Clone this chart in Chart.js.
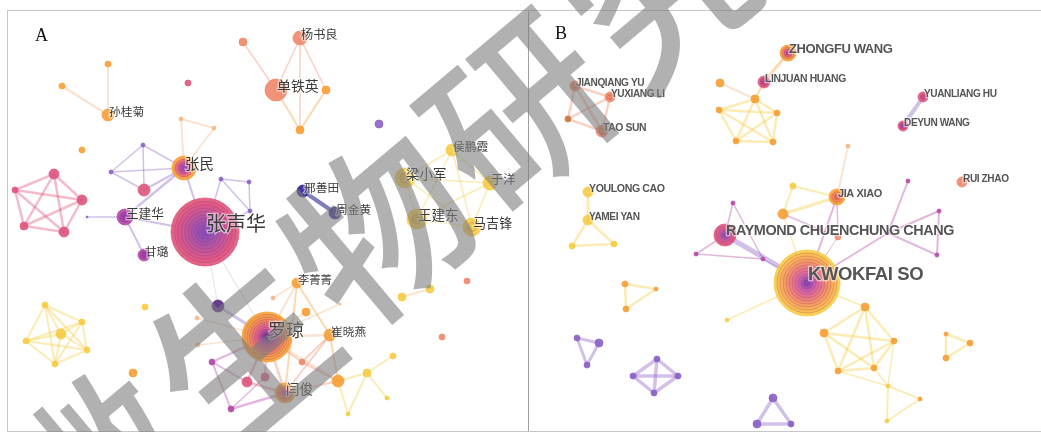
<!DOCTYPE html>
<html>
<head>
<meta charset="utf-8">
<script src="https://cdn.jsdelivr.net/npm/chart.js@4.4.1/dist/chart.umd.min.js"></script>
<style>
    body { margin: 0; background: #fff; }
    #wrap { position: relative; width: 1041px; height: 432px; overflow: hidden; background: #fff; }
    .frame { position: absolute; box-sizing: border-box; }
    canvas { position: absolute; top: 0; }
    .wm {
        position: absolute; font-family: "Noto Sans CJK SC"; font-weight: 500; font-size: 178px;
        line-height: 1; color: rgba(125, 125, 125, 0.6); pointer-events: none; white-space: nowrap;
        transform: translate(-50%, -50%) rotate(-40deg); z-index: 10;
    }
</style>
</head>
<body>
<div id="wrap">
    <div class="frame" style="left:7px;top:10px;width:522px;height:422px;border:1px solid #c6c6c6;border-right:1px solid #a0a0a0;"></div>
    <div class="frame" style="left:528px;top:10px;width:520px;height:422px;border-top:1px solid #c6c6c6;border-bottom:1px solid #c6c6c6;"></div>
    <canvas id="chartA" width="528" height="432" style="left:0"></canvas>
    <canvas id="chartB" width="513" height="432" style="left:528px"></canvas>
    <span class="wm" style="left:90px;top:462px">微</span>
    <span class="wm" style="left:236px;top:344px">生</span>
    <span class="wm" style="left:372px;top:222px">物</span>
    <span class="wm" style="left:512px;top:103px">研</span>
    <span class="wm" style="left:654px;top:-16px">究</span>
</div>
<script>
(function () {
    // node: [name, x, y, size, group]  (names starting with "_" carry no label)
    const nodesA = [
        ['杨书良', 300, 38, 7, 'salmon'], ['_a1', 243, 42, 4, 'salmon'], ['单铁英', 276, 90, 11, 'salmon'],
        ['_a2', 326, 90, 4, 'orange'], ['_a3', 300, 130, 4, 'orange'],
        ['孙桂菊', 108, 115, 6, 'orange'], ['_a4', 108, 64, 3, 'orange'], ['_a5', 62, 86, 3, 'orange'],
        ['_a6', 188, 83, 3, 'pink'], ['_a7', 82, 150, 3, 'orange'], ['_a8', 379, 124, 4, 'purple'],
        ['张民', 184, 168, 12, 'orange'], ['_a9', 181, 119, 2, 'peach'], ['_a10', 214, 128, 2, 'peach'],
        ['_a11', 143, 145, 2, 'purple'], ['_a12', 111, 172, 2, 'purple'], ['_a13', 144, 190, 6, 'pink'],
        ['_p1', 54, 174, 5, 'pink'], ['_p2', 15, 190, 3, 'pink'], ['_p3', 82, 200, 5, 'pink'],
        ['_p4', 24, 226, 4, 'pink'], ['_p5', 64, 232, 5, 'pink'],
        ['王建华', 125, 217, 8, 'magenta'], ['_a14', 87, 217, 1, 'purple'], ['甘璐', 144, 255, 6, 'magenta'],
        ['张声华', 205, 232, 34, 'pink'],
        ['_s1', 221, 179, 2, 'purple'], ['_s2', 249, 182, 2, 'purple'], ['_s3', 250, 211, 2, 'purple'],
        ['邢善田', 303, 191, 6, 'navy'], ['周金黄', 335, 213, 6, 'navy'],
        ['侯鹏霞', 452, 150, 6, 'yellow'], ['梁小军', 405, 178, 10, 'yellow'], ['于洋', 490, 183, 7, 'yellow'],
        ['王建东', 417, 219, 10, 'yellow'], ['马吉锋', 472, 227, 9, 'yellow'],
        ['_a15', 467, 281, 3, 'salmon'], ['_a16', 402, 297, 4, 'yellow'], ['_a17', 430, 289, 4, 'yellow'],
        ['罗琼', 267, 337, 25, 'orange'], ['李菁菁', 297, 283, 5, 'orange'], ['_b1', 218, 306, 6, 'darkpurple'],
        ['崔晓燕', 330, 335, 6, 'orange'], ['闫俊', 285, 393, 10, 'orange'],
        ['_b2', 306, 312, 4, 'orange'], ['_b3', 302, 362, 3, 'salmon'], ['_b4', 247, 382, 5, 'pink'],
        ['_b5', 265, 377, 4, 'pink'], ['_b6', 212, 362, 3, 'magenta'], ['_b7', 231, 409, 3, 'magenta'],
        ['_b8', 338, 381, 6, 'orange'], ['_b9', 367, 373, 4, 'yellow'], ['_b10', 393, 356, 3, 'yellow'],
        ['_b11', 348, 414, 2, 'yellow'], ['_b12', 387, 398, 2, 'yellow'], ['_b13', 197, 318, 2, 'peach'],
        ['_b14', 198, 345, 2, 'peach'], ['_b15', 273, 298, 2, 'peach'], ['_b16', 340, 304, 1, 'peach'],
        ['_b17', 145, 307, 3, 'yellow'], ['_b18', 133, 373, 4, 'orange'], ['_b19', 442, 337, 3, 'salmon'],
        ['_h1', 45, 305, 3, 'yellow'], ['_h2', 82, 322, 3, 'yellow'], ['_h3', 26, 341, 3, 'yellow'],
        ['_h4', 61, 334, 5, 'yellow'], ['_h5', 87, 350, 3, 'yellow'], ['_h6', 55, 364, 3, 'yellow']
    ];

    // edge: [from, to, weight, group]
    const edgesA = [
        ['杨书良', '单铁英', 1.5, 'salmon'], ['杨书良', '_a3', 1.5, 'salmon'], ['杨书良', '_a2', 1.5, 'salmon'],
        ['_a1', '单铁英', 1.5, 'salmon'], ['单铁英', '_a3', 2, 'orange'], ['_a2', '_a3', 2, 'orange'],
        ['孙桂菊', '_a4', 2, 'peach'], ['孙桂菊', '_a5', 2.5, 'peach'],
        ['张民', '_a9', 2, 'peach'], ['_a9', '_a10', 2, 'peach'], ['_a10', '张民', 2, 'peach'],
        ['_a11', '_a12', 1.5, 'purple'], ['_a11', '张民', 1.5, 'purple'], ['_a12', '张民', 1.5, 'purple'],
        ['_a11', '_a13', 1.5, 'purple'], ['_a12', '_a13', 1.5, 'purple'], ['_a13', '张民', 2, 'purple'],
        ['_a14', '王建华', 1.5, 'purple'], ['王建华', '张民', 2.5, 'purple'], ['王建华', '张声华', 2, 'purple'],
        ['王建华', '甘璐', 2, 'purple'], ['张民', '张声华', 2, 'purple'],
        ['_s1', '_s2', 1.5, 'purple'], ['_s2', '_s3', 1.5, 'purple'], ['_s1', '_s3', 1.5, 'purple'],
        ['_s1', '张声华', 1.5, 'purple'], ['_s3', '张声华', 1.5, 'purple'],
        ['邢善田', '周金黄', 4, 'navy'], ['_a16', '_a17', 2, 'peach'],
        ['张声华', '罗琼', 1, 'grey'], ['张声华', '_b1', 0.8, 'grey'], ['_b1', '罗琼', 3, 'purple'],
        ['罗琼', '李菁菁', 2, 'peach'], ['罗琼', '_b2', 2, 'peach'], ['罗琼', '崔晓燕', 2.5, 'peach'],
        ['罗琼', '闫俊', 2.5, 'salmon'], ['罗琼', '_b4', 2.5, 'pink'], ['罗琼', '_b5', 2, 'pink'],
        ['罗琼', '_b6', 2, 'magenta'], ['罗琼', '_b13', 1.5, 'peach'], ['罗琼', '_b14', 1.5, 'peach'],
        ['罗琼', '_b3', 2, 'salmon'], ['罗琼', '_b8', 2, 'peach'], ['罗琼', '_b16', 1.5, 'peach'],
        ['李菁菁', '崔晓燕', 2, 'orange'], ['李菁菁', '闫俊', 2, 'orange'], ['李菁菁', '_b15', 1.5, 'peach'],
        ['崔晓燕', '闫俊', 2, 'salmon'], ['崔晓燕', '_b3', 2, 'salmon'], ['崔晓燕', '_b8', 2, 'orange'],
        ['_b3', '_b8', 2, 'salmon'], ['闫俊', '_b8', 2, 'salmon'], ['闫俊', '_b4', 2.5, 'pink'],
        ['_b4', '_b6', 2, 'magenta'], ['_b6', '_b7', 2, 'magenta'], ['_b7', '闫俊', 2.5, 'magenta'],
        ['_b7', '_b5', 1.5, 'magenta'],
        ['_b8', '_b9', 2, 'yellow'], ['_b9', '_b10', 2, 'yellow'], ['_b9', '_b11', 2, 'yellow'],
        ['_b11', '_b8', 2, 'yellow'], ['_b9', '_b12', 2, 'yellow']
    ];

    // groups of authors that all co-publish with each other: [members, weight, group]
    const cliquesA = [
        [['_p1', '_p2', '_p3', '_p4', '_p5'], 2.5, 'pink'],
        [['侯鹏霞', '梁小军', '于洋', '王建东', '马吉锋'], 1.5, 'yellow'],
        [['_h1', '_h2', '_h3', '_h4', '_h5', '_h6'], 2, 'yellow']
    ];

    const nodesB = [
        ['ZHONGFU WANG', 788, 53, 8, 'orange'], ['LINJUAN HUANG', 764, 82, 6, 'pink'],
        ['_c1', 720, 83, 4, 'orange'], ['_c2', 755, 99, 4, 'orange'], ['_c3', 719, 110, 3, 'orange'],
        ['_c4', 777, 113, 3, 'orange'], ['_c5', 736, 141, 3, 'orange'], ['_c6', 773, 142, 3, 'orange'],
        ['JIANQIANG YU', 575, 86, 5, 'salmon'], ['YUXIANG LI', 610, 97, 5, 'salmon'],
        ['TAO SUN', 602, 131, 6, 'salmon'], ['_c7', 568, 119, 3, 'brown'],
        ['YUANLIANG HU', 923, 97, 5, 'pink'], ['DEYUN WANG', 903, 126, 5, 'pink'],
        ['RUI ZHAO', 962, 182, 5, 'salmon'],
        ['YOULONG CAO', 588, 192, 5, 'yellow'], ['YAMEI YAN', 588, 220, 5, 'yellow'],
        ['_c8', 572, 246, 3, 'yellow'], ['_c9', 614, 244, 3, 'yellow'],
        ['JIA XIAO', 837, 197, 8, 'orange'], ['_c10', 793, 186, 3, 'yellow'], ['_c11', 783, 214, 5, 'orange'],
        ['_c12', 848, 146, 2, 'peach'],
        ['RAYMOND CHUENCHUNG CHANG', 725, 235, 11, 'pink'], ['KWOKFAI SO', 807, 283, 33, 'yellow'],
        ['_d1', 733, 203, 2, 'magenta'], ['_d2', 696, 254, 2, 'magenta'], ['_d3', 763, 259, 2, 'magenta'],
        ['_d4', 908, 181, 2, 'magenta'], ['_d5', 939, 211, 2, 'magenta'], ['_d6', 937, 255, 2, 'magenta'],
        ['_d7', 888, 233, 1, 'magenta'], ['_d8', 838, 237, 3, 'salmon'], ['_d9', 727, 320, 2, 'yellow'],
        ['_e1', 865, 307, 4, 'orange'], ['_e2', 824, 333, 4, 'orange'], ['_e3', 894, 341, 3, 'orange'],
        ['_e4', 838, 371, 3, 'orange'], ['_e5', 874, 368, 3, 'orange'], ['_e6', 888, 386, 2, 'yellow'],
        ['_e7', 920, 399, 2, 'orange'], ['_e8', 887, 421, 2, 'yellow'],
        ['_f1', 625, 284, 3, 'orange'], ['_f2', 656, 289, 2, 'orange'], ['_f3', 626, 309, 3, 'orange'],
        ['_g1', 946, 334, 2, 'orange'], ['_g2', 970, 343, 3, 'orange'], ['_g3', 946, 358, 3, 'orange'],
        ['_k1', 577, 338, 3, 'purple'], ['_k2', 599, 343, 4, 'purple'], ['_k3', 587, 365, 3, 'purple'],
        ['_m1', 657, 359, 3, 'purple'], ['_m2', 633, 376, 3, 'purple'], ['_m3', 678, 376, 3, 'purple'],
        ['_m4', 654, 393, 3, 'purple'],
        ['_n1', 773, 398, 4, 'purple'], ['_n2', 757, 424, 4, 'purple'], ['_n3', 791, 424, 3, 'purple']
    ];

    const edgesB = [
        ['ZHONGFU WANG', 'LINJUAN HUANG', 3, 'orange'], ['_c1', '_c2', 2, 'peach'], ['LINJUAN HUANG', '_c2', 2, 'orange'],
        ['YUANLIANG HU', 'DEYUN WANG', 4, 'purple'], ['YOULONG CAO', 'YAMEI YAN', 3, 'yellow'],
        ['_c12', 'JIA XIAO', 2, 'peach'], ['JIA XIAO', '_c10', 2, 'yellow'], ['JIA XIAO', '_c11', 3, 'yellow'],
        ['_c10', '_c11', 2, 'yellow'], ['_c11', '_d8', 1.5, 'magenta'], ['JIA XIAO', '_d8', 1.5, 'magenta'],
        ['KWOKFAI SO', 'JIA XIAO', 2, 'magenta'], ['KWOKFAI SO', '_c11', 1.5, 'yellow'],
        ['RAYMOND CHUENCHUNG CHANG', '_d1', 1.5, 'magenta'], ['_d1', '_d3', 1.5, 'magenta'],
        ['RAYMOND CHUENCHUNG CHANG', '_d2', 1.5, 'magenta'], ['_d2', '_d3', 1.5, 'magenta'],
        ['RAYMOND CHUENCHUNG CHANG', 'KWOKFAI SO', 5, 'purple'], ['_d3', 'KWOKFAI SO', 1, 'magenta'],
        ['KWOKFAI SO', '_d7', 2, 'magenta'], ['_d7', '_d4', 2, 'magenta'], ['_d7', '_d5', 2, 'magenta'],
        ['_d7', '_d6', 2, 'magenta'], ['_d5', '_d6', 2, 'magenta'], ['KWOKFAI SO', '_d8', 1, 'magenta'],
        ['KWOKFAI SO', '_d9', 1.5, 'yellow'], ['KWOKFAI SO', '_e1', 1.5, 'yellow'],
        ['_e3', '_e6', 1.5, 'yellow'], ['_e5', '_e6', 1.5, 'yellow'], ['_e4', '_e6', 1.5, 'yellow'],
        ['_e6', '_e7', 2, 'yellow'], ['_e6', '_e8', 2, 'yellow'], ['_e7', '_e8', 2, 'yellow']
    ];

    const cliquesB = [
        [['JIANQIANG YU', 'YUXIANG LI', 'TAO SUN', '_c7'], 2.5, 'salmon'],
        [['_c2', '_c3', '_c4', '_c5', '_c6'], 2.5, 'yellow'],
        [['YAMEI YAN', '_c8', '_c9'], 2.5, 'yellow'],
        [['_e1', '_e2', '_e3', '_e4', '_e5'], 2.5, 'yellow'],
        [['_f1', '_f2', '_f3'], 2.5, 'yellow'],
        [['_g1', '_g2', '_g3'], 2.5, 'yellow'],
        [['_k1', '_k2', '_k3'], 3, 'purple'],
        [['_m1', '_m2', '_m3', '_m4'], 3.5, 'purple'],
        [['_n1', '_n2', '_n3'], 3.5, 'purple']
    ];

    // ---- styles ----
    const groupColors = {
        purple: [140, 100, 200], darkpurple: [90, 45, 135], magenta: [180, 75, 170], navy: [40, 40, 140],
        pink: [222, 88, 126], salmon: [240, 138, 108], orange: [247, 160, 58], peach: [243, 185, 138],
        yellow: [246, 204, 70], brown: [200, 120, 64], grey: [170, 170, 185]
    };

    const hubRings = {
        '张声华': ['#e05a84', '#d6588c', '#cb5894', '#be579c', '#b256a4', '#a654ab', '#9a52b1', '#8e50b5', '#8a4db8'],
        '罗琼': ['#f6a248', '#f39352', '#ee8462', '#e77572', '#de6884', '#cd5a96', '#b04c9e', '#8a3e98', '#602a80'],
        '张民': ['#e8707a', '#c2559e', '#9d4cb0'],
        '闫俊': ['#f18a5e', '#e77580', '#d0609a'],
        '王建华': ['#a844ac', '#9a3fb0'],
        '甘璐': ['#a844ac', '#9a3fb0'],
        '梁小军': ['#ecc040'], '王建东': ['#e8bc3c'], '马吉锋': ['#f0c848'],
        '邢善田': ['#3a3ab0'], '周金黄': ['#3a3ab0'],
        'KWOKFAI SO': ['#fabd55', '#f8ae5a', '#f59f62', '#f1906e', '#ec807e', '#e5748f', '#d86aa0', '#c560ad', '#a652b2', '#8a45b5'],
        'RAYMOND CHUENCHUNG CHANG': ['#dc5e88', '#c95c9e', '#a855b0', '#8e4db5'],
        'ZHONGFU WANG': ['#f08a55', '#d86080', '#b04a9a'],
        'LINJUAN HUANG': ['#d0507e', '#a8489a'],
        'YUANLIANG HU': ['#c84c8e'], 'DEYUN WANG': ['#c04c96', '#9a48a8'],
        'JIA XIAO': ['#f2884e', '#e66a60'],
        'TAO SUN': ['#f2855e'], 'YUXIANG LI': ['#f2855e'], 'JIANQIANG YU': ['#f2855e']
    };

    // label font sizes that do not follow the node size rule
    const labelSizeOverride = {
        '罗琼': 18, 'RAYMOND CHUENCHUNG CHANG': 14.4, 'ZHONGFU WANG': 13, 'YOULONG CAO': 10.6
    };

    function rgba(c, a) {
        return 'rgba(' + c[0] + ',' + c[1] + ',' + c[2] + ',' + a + ')';
    }

    function expandCliques(cliques) {
        const out = [];
        cliques.forEach(function (c) {
            const m = c[0];
            for (let i = 0; i < m.length; i++) {
                for (let j = i + 1; j < m.length; j++) out.push([m[i], m[j], c[1], c[2]]);
            }
        });
        return out;
    }

    function buildDatasets(nodes, edges) {
        const byId = {};
        nodes.forEach(function (n) { byId[n[0]] = n; });
        const ds = [];
        edges.forEach(function (e) {
            const a = byId[e[0]], b = byId[e[1]];
            ds.push({
                type: 'line',
                data: [{ x: a[1], y: a[2] }, { x: b[1], y: b[2] }],
                borderColor: rgba(groupColors[e[3]], e[3] === 'navy' ? 0.6 : 0.4),
                borderWidth: e[2],
                borderCapStyle: 'round',
                pointRadius: 0,
                fill: false,
                order: 100
            });
        });
        ds.push({
            type: 'bubble',
            data: nodes.map(function (n) { return { x: n[1], y: n[2], r: n[3] }; }),
            backgroundColor: nodes.map(function (n) { return rgba(groupColors[n[4]], 0.92); }),
            borderColor: nodes.map(function (n) { return rgba(groupColors[n[4]], 1); }),
            borderWidth: 0.8,
            order: 50
        });
        nodes.forEach(function (n) {
            const rings = hubRings[n[0]];
            if (!rings) return;
            rings.forEach(function (c, i) {
                ds.push({
                    type: 'bubble',
                    data: [{ x: n[1], y: n[2], r: n[3] * (1 - (i + 1) / (rings.length + 1)) }],
                    backgroundColor: c,
                    borderColor: 'rgba(140,40,100,0.35)',
                    borderWidth: 0.7,
                    order: 49 - i
                });
            });
        });
        return ds;
    }

    const labelPlugin = {
        id: 'nodeLabels',
        afterDatasetsDraw(chart, args, opts) {
            const ctx = chart.ctx;
            const xs = chart.scales.x, ys = chart.scales.y;
            ctx.save();
            ctx.textAlign = 'left';
            ctx.textBaseline = 'middle';
            ctx.letterSpacing = opts.spacing;
            opts.nodes.forEach(function (n) {
                if (n[0].charAt(0) === '_') return;
                const size = labelSizeOverride[n[0]] || Math.min(opts.maxSize, opts.base + n[3] * opts.scale);
                ctx.font = opts.weight + ' ' + size.toFixed(1) + 'px ' + opts.family;
                const px = xs.getPixelForValue(n[1]) + 1;
                const py = ys.getPixelForValue(n[2]) - (2 + n[3] * 0.18);
                ctx.lineWidth = 2.5;
                ctx.strokeStyle = 'rgba(255,255,255,0.55)';
                ctx.strokeText(n[0], px, py);
                ctx.fillStyle = opts.color;
                ctx.fillText(n[0], px, py);
            });
            ctx.letterSpacing = '0px';
            ctx.font = '18px "Liberation Serif"';
            ctx.fillStyle = '#111';
            ctx.fillText(opts.letter[0], opts.letter[1], opts.letter[2]);
            ctx.restore();
        }
    };

    function makeChart(id, nodes, edges, cliques, range, labelOpts) {
        return new Chart(document.getElementById(id), {
            type: 'bubble',
            data: { datasets: buildDatasets(nodes, edges.concat(expandCliques(cliques))) },
            options: {
                responsive: false,
                animation: false,
                events: [],
                layout: { padding: 0, autoPadding: false },
                plugins: {
                    legend: { display: false },
                    tooltip: { enabled: false },
                    nodeLabels: Object.assign({ nodes: nodes }, labelOpts)
                },
                scales: {
                    x: { type: 'linear', min: range[0], max: range[1], display: false },
                    y: { type: 'linear', min: 0, max: 432, reverse: true, display: false }
                }
            },
            plugins: [labelPlugin]
        });
    }

    function init() {
        if (typeof Chart === 'undefined') return;
        makeChart('chartA', nodesA, edgesA, cliquesA, [0, 528], {
            family: '"Noto Sans CJK SC"', weight: '400', color: '#3a3a3a',
            base: 9, scale: 0.45, maxSize: 20, spacing: '0px', letter: ['A', 35, 36]
        });
        makeChart('chartB', nodesB, edgesB, cliquesB, [528, 1041], {
            family: '"Liberation Sans"', weight: '700', color: '#555',
            base: 8.6, scale: 0.3, maxSize: 19, spacing: '-0.4px', letter: ['B', 27, 34]
        });
    }

    document.addEventListener('DOMContentLoaded', init);
})();
</script>
</body>
</html>
